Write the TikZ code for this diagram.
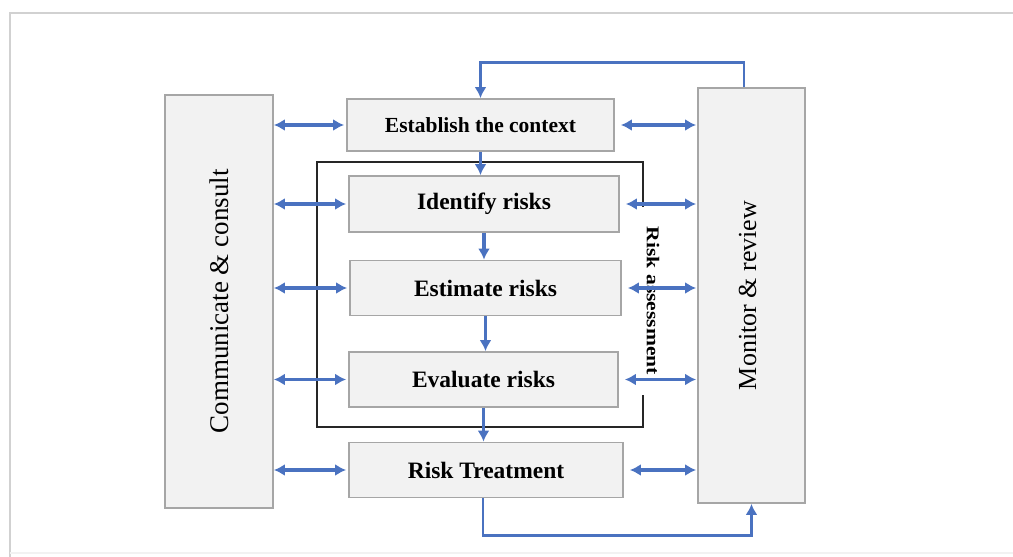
\documentclass[tikz,border=0pt]{standalone}
\usepackage{fontspec}
\setmainfont{Liberation Serif}
\usetikzlibrary{arrows.meta,calc}
\definecolor{arrblue}{HTML}{4A72C0}
\definecolor{boxfill}{HTML}{F2F2F2}
\definecolor{boxline}{HTML}{A6A6A6}
\tikzset{
  stepbox/.style={draw=boxline, fill=boxfill, line width=1.8pt, inner sep=0pt, font=\fontsize{23.5}{24}\selectfont\bfseries},
  sidebox/.style={draw=boxline, fill=boxfill, line width=1.8pt, inner sep=0pt},
  flow/.style={arrblue, line width=3.4pt, -{Latex[length=11pt,width=12pt]}},
  both/.style={arrblue, line width=3.4pt, {Latex[length=11pt,width=12pt]}-{Latex[length=11pt,width=12pt]}},
}
\begin{document}
\begin{tikzpicture}[x=1pt,y=-1pt]
\useasboundingbox (0,0) rectangle (1013,557);
% page frame
\draw[color=black!18, line width=2pt] (10,557) -- (10,13) -- (1013,13);
\draw[color=black!5, line width=2pt] (10,553) -- (1013,553);

% side boxes
\node[sidebox, minimum width=108pt, minimum height=413pt] (comm) at (219,301.5) {};
\node[rotate=90, font=\fontsize{27}{28}\selectfont] at (comm.center) {Communicate \& consult};
\node[sidebox, minimum width=107pt, minimum height=415pt] (mon) at (751.5,295.5) {};
\node[rotate=90, font=\fontsize{26}{27}\selectfont] at ([xshift=-4pt]mon.center) {Monitor \& review};

% step boxes
\node[stepbox, minimum width=267pt, minimum height=52pt, font=\fontsize{21.5}{22}\selectfont\bfseries] (est) at (480.5,125) {Establish the context};
\node[stepbox, minimum width=270pt, minimum height=56pt] (idn) at (484,204) {Identify risks};
\node[stepbox, minimum width=271pt, minimum height=55pt] (estm) at (485.5,288) {Estimate risks};
\node[stepbox, minimum width=269pt, minimum height=55pt] (evl) at (483.5,379.5) {Evaluate risks};
\node[stepbox, minimum width=274pt, minimum height=55pt] (trt) at (486,470) {Risk Treatment};

% risk assessment frame
\coordinate (fa) at (643,207);
\coordinate (fb) at (643,395);
\draw[line width=1.5pt, black!85] (fa) -- (643,162) -- (317,162) -- (317,427) -- (643,427) -- (fb);
\node[rotate=-90, font=\fontsize{18}{18}\selectfont\bfseries] (ra) at (653,301) {\scalebox{1.2}[1]{Risk assessment}};

% left and right arrows
\foreach \b in {est,idn,estm,evl,trt}{
  \draw[both, shorten >=2pt] (\b.west -| comm.east) -- (\b.west);
  \draw[both, shorten <=6pt, shorten >=1pt] (\b.east) -- (\b.east -| mon.west);
}

% down arrows
\draw[flow] (est.south) -- (est.south |- idn.north);
\draw[flow] (idn.south) -- (idn.south |- estm.north);
\draw[flow] (estm.south) -- (estm.south |- evl.north);
\draw[flow] (evl.south) -- (evl.south |- trt.north);

% feedback loops
\coordinate (topc) at ($(mon.north)+(-7.5,-25)$);
\draw[flow, line width=2.8pt] ($(mon.north)+(-7.5,0)$) -- (topc) -| (est.north);
\coordinate (botc) at ($(trt.south)+(-3,37)$);
\draw[flow, line width=2.8pt] ($(trt.south)+(-3,0)$) -- (botc) -| (mon.south);
\end{tikzpicture}
\end{document}
